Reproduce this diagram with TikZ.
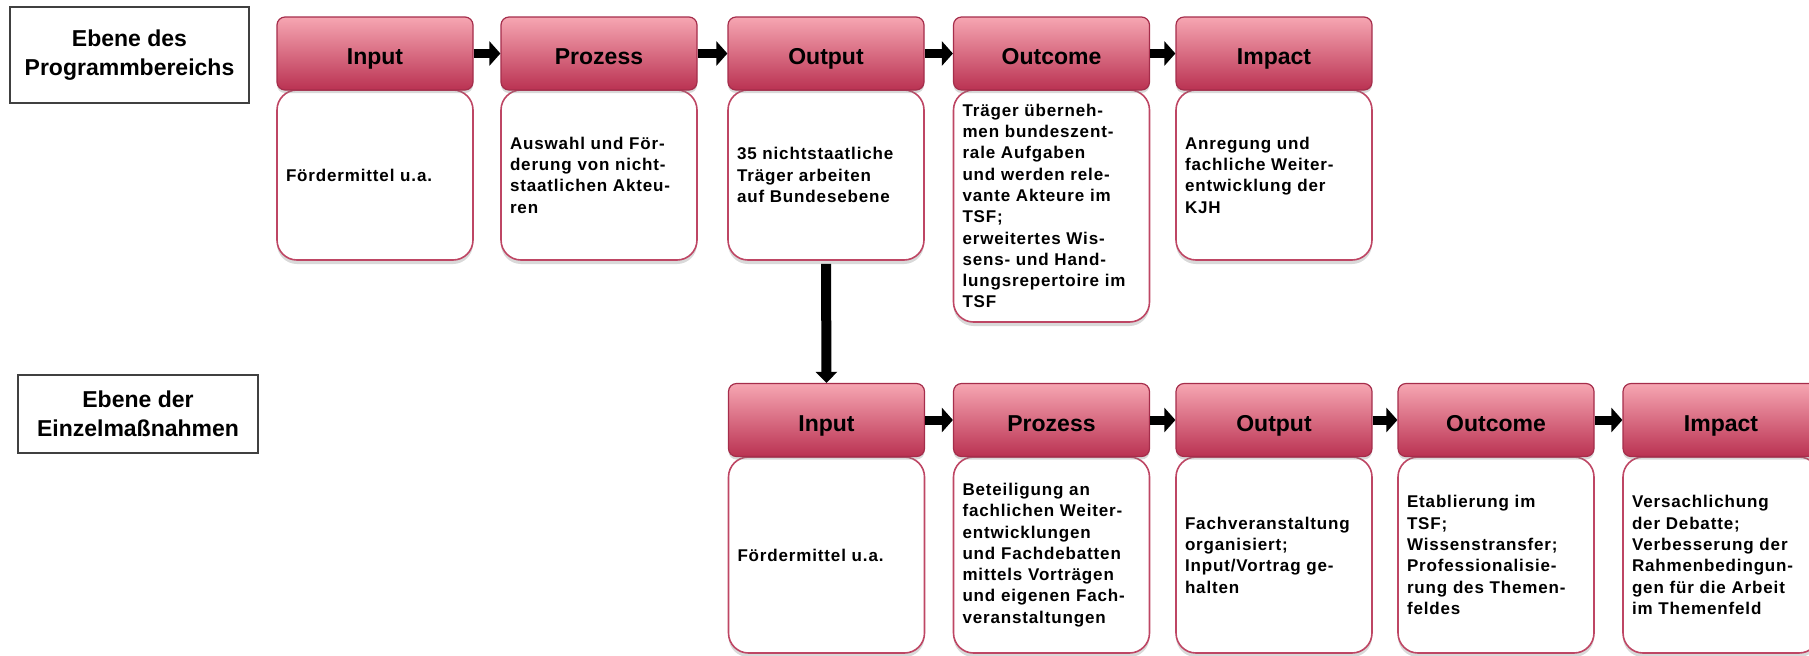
\documentclass[tikz,border=0pt]{standalone}
\usepackage{fontspec}
\setmainfont{Liberation Sans}
\newfontfamily\bodyfont[LetterSpace=5]{Liberation Sans}
\usetikzlibrary{arrows.meta,shadows}
\definecolor{hdtop}{RGB}{246,166,178}
\definecolor{hdbot}{RGB}{186,50,82}
\definecolor{hdline}{RGB}{165,45,75}
\definecolor{bdline}{RGB}{190,70,100}
\tikzset{
  hdr/.style={draw=hdline, line width=0.6pt, rounded corners=4pt,
    top color=hdtop, bottom color=hdbot, minimum width=98pt, minimum height=36.5pt,
    inner sep=0pt, font=\fontsize{11.5}{13}\selectfont\bfseries,
    text height=11pt, text depth=0pt,
    drop shadow={shadow xshift=0pt, shadow yshift=-1.5pt, opacity=0.3}},
  bdy/.style={draw=bdline, line width=0.8pt, fill=white, rounded corners=10pt,
    minimum width=98pt, text width=89pt, inner xsep=4.5pt, inner ysep=0pt,
    align=left, font=\bodyfont\fontsize{8.5}{10.65}\selectfont\bfseries,
    drop shadow={shadow xshift=0pt, shadow yshift=-2pt, opacity=0.3}},
  lvl/.style={draw=black!75, line width=0.8pt, inner sep=0pt, align=center,
    font=\fontsize{11.5}{14.75}\selectfont\bfseries},
  arr/.style={line width=4.5pt, -{Triangle[width=12pt,length=5.5pt]}},
  varr/.style={line width=5pt, -{Triangle[width=10.5pt,length=5.5pt]}},
}
\begin{document}
\begin{tikzpicture}[x=0.5pt,y=-0.5pt]
\useasboundingbox (0,0) rectangle (1809,655);
% level labels
\node[lvl, minimum width=119.5pt, minimum height=48pt] (L1) at (129.5,55) {Ebene des\\Programmbereichs};
\node[lvl, minimum width=120pt, minimum height=39pt] (L2) at (138,414) {Ebene der\\Einzelmaßnahmen};
% top row bodies
\node[bdy, minimum height=85pt] (tb1) at (375,175) {Fördermittel u.a.};
\node[bdy, minimum height=85pt] (tb2) at (599,175) {Auswahl und För-\\derung von nicht-\\staatlichen Akteu-\\ren};
\node[bdy, minimum height=85pt] (tb3) at (826,175) {35 nichtstaatliche\\Träger arbeiten\\auf Bundesebene};
\node[bdy, minimum height=116pt] (tb4) at (1051.5,206) {Träger überneh-\\men bundeszent-\\rale Aufgaben\\und werden rele-\\vante Akteure im\\TSF;\\erweitertes Wis-\\sens- und Hand-\\lungsrepertoire im\\TSF};
\node[bdy, minimum height=85pt] (tb5) at (1274,175) {Anregung und\\fachliche Weiter-\\entwicklung der\\KJH};
% top row headers
\node[hdr] (th1) at (375,53.5) {Input};
\node[hdr] (th2) at (599,53.5) {Prozess};
\node[hdr] (th3) at (826,53.5) {Output};
\node[hdr] (th4) at (1051.5,53.5) {Outcome};
\node[hdr] (th5) at (1274,53.5) {Impact};
% bottom row bodies
\node[bdy, minimum height=98pt] (bb1) at (826.5,555) {Fördermittel u.a.};
\node[bdy, minimum height=98pt] (bb2) at (1051.5,555) {Beteiligung an\\fachlichen Weiter-\\entwicklungen\\und Fachdebatten\\mittels Vorträgen\\und eigenen Fach-\\veranstaltungen};
\node[bdy, minimum height=98pt] (bb3) at (1274,555) {Fachveranstaltung\\organisiert;\\Input/Vortrag ge-\\halten};
\node[bdy, minimum height=98pt] (bb4) at (1496,555) {Etablierung im\\TSF;\\Wissenstransfer;\\Professionalisie-\\rung des Themen-\\feldes};
\node[bdy, minimum height=98pt] (bb5) at (1721,555) {Versachlichung\\der Debatte;\\Verbesserung der\\Rahmenbedingun-\\gen für die Arbeit\\im Themenfeld};
% bottom row headers
\node[hdr] (bh1) at (826.5,420) {Input};
\node[hdr] (bh2) at (1051.5,420) {Prozess};
\node[hdr] (bh3) at (1274,420) {Output};
\node[hdr] (bh4) at (1496,420) {Outcome};
\node[hdr] (bh5) at (1721,420) {Impact};
% arrows
\draw[arr] (th1.east) -- (th2.west);
\draw[arr] (th2.east) -- (th3.west);
\draw[arr] (th3.east) -- (th4.west);
\draw[arr] (th4.east) -- (th5.west);
\draw[arr] (bh1.east) -- (bh2.west);
\draw[arr] (bh2.east) -- (bh3.west);
\draw[arr] (bh3.east) -- (bh4.west);
\draw[arr] (bh4.east) -- (bh5.west);
\draw[varr] ([yshift=-1.5pt]tb3.south) -- (bh1.north);
\end{tikzpicture}
\end{document}
